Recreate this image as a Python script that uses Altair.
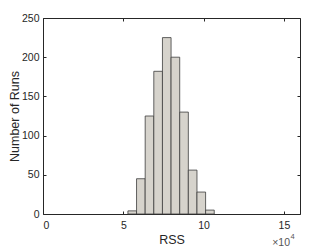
import altair as alt
import pandas as pd

# Histogram of RSS over 1000 runs
bin_start = [52860, 58235, 63610, 68985, 74360, 79735, 85110, 90485, 95860, 101235]
bin_width = 5375
counts = [4, 45, 125, 182, 225, 200, 130, 56, 28, 5]
x_ticks = [0, 50000, 100000, 150000]
y_ticks = [0, 50, 100, 150, 200, 250]
x_title = "RSS"
y_title = "Number of Runs"
exponent_base = "×10"
exponent_power = "4"

df = pd.DataFrame({
    "start": bin_start,
    "end": [s + bin_width for s in bin_start],
    "count": counts,
})

FONT = "Liberation Sans"
INK = "#262626"

xscale = alt.Scale(domain=[0, 160000], nice=False, zero=False)
yscale = alt.Scale(domain=[0, 250], nice=False)

common = dict(offset=-3, tickSize=3, domain=False, grid=False, tickColor=INK,
              tickWidth=1, labelColor=INK, labelFont=FONT, labelFontSize=10.5,
              titleFont=FONT, titleFontWeight="normal", titleColor=INK)

bars = alt.Chart(df).mark_rect(fill="#d6d3cc", stroke="#3c3c3c", strokeWidth=0.8).encode(
    x=alt.X("start:Q", scale=xscale,
            axis=alt.Axis(orient="bottom", values=x_ticks,
                          labelExpr="format(datum.value/10000,'d')",
                          title=x_title, labelPadding=6, titlePadding=3,
                          titleFontSize=12.5, **common)),
    x2="end:Q",
    y=alt.Y("count:Q", scale=yscale,
            axis=alt.Axis(orient="left", values=y_ticks, title=y_title,
                          labelPadding=4, titlePadding=0, titleFontSize=12.5,
                          **common)),
    y2=alt.Y2(datum=0),
)

frame = alt.Chart(df).mark_rect(opacity=0).encode(
    x=alt.X("start:Q", scale=xscale,
            axis=alt.Axis(orient="top", values=x_ticks, labels=False, title=None,
                          offset=-3, tickSize=3, domain=False, grid=False,
                          tickColor=INK)),
    x2="end:Q",
    y=alt.Y("count:Q", scale=yscale,
            axis=alt.Axis(orient="right", values=y_ticks, labels=False, title=None,
                          offset=-3, tickSize=3, domain=False, grid=False,
                          tickColor=INK)),
    y2=alt.Y2(datum=0),
)

exp_base = alt.Chart(pd.DataFrame({"t": [exponent_base]})).mark_text(
    align="right", baseline="alphabetic", font=FONT, fontSize=10.5, color="#555555"
).encode(x=alt.value(247), y=alt.value(228), text="t:N")

exp_pow = alt.Chart(pd.DataFrame({"t": [exponent_power]})).mark_text(
    align="left", baseline="alphabetic", font=FONT, fontSize=7.5, color="#555555"
).encode(x=alt.value(247.5), y=alt.value(221), text="t:N")

chart = alt.layer(bars, frame, exp_base, exp_pow).resolve_axis(
    x="independent", y="independent"
).properties(
    width=257, height=196,
    autosize=alt.AutoSizeParams(type="none"),
    padding={"left": 35, "top": 10, "right": 24, "bottom": 35},
).configure_view(stroke=INK, strokeWidth=1)

chart.save("out.html", embed_options={"renderer": "svg", "actions": False})
